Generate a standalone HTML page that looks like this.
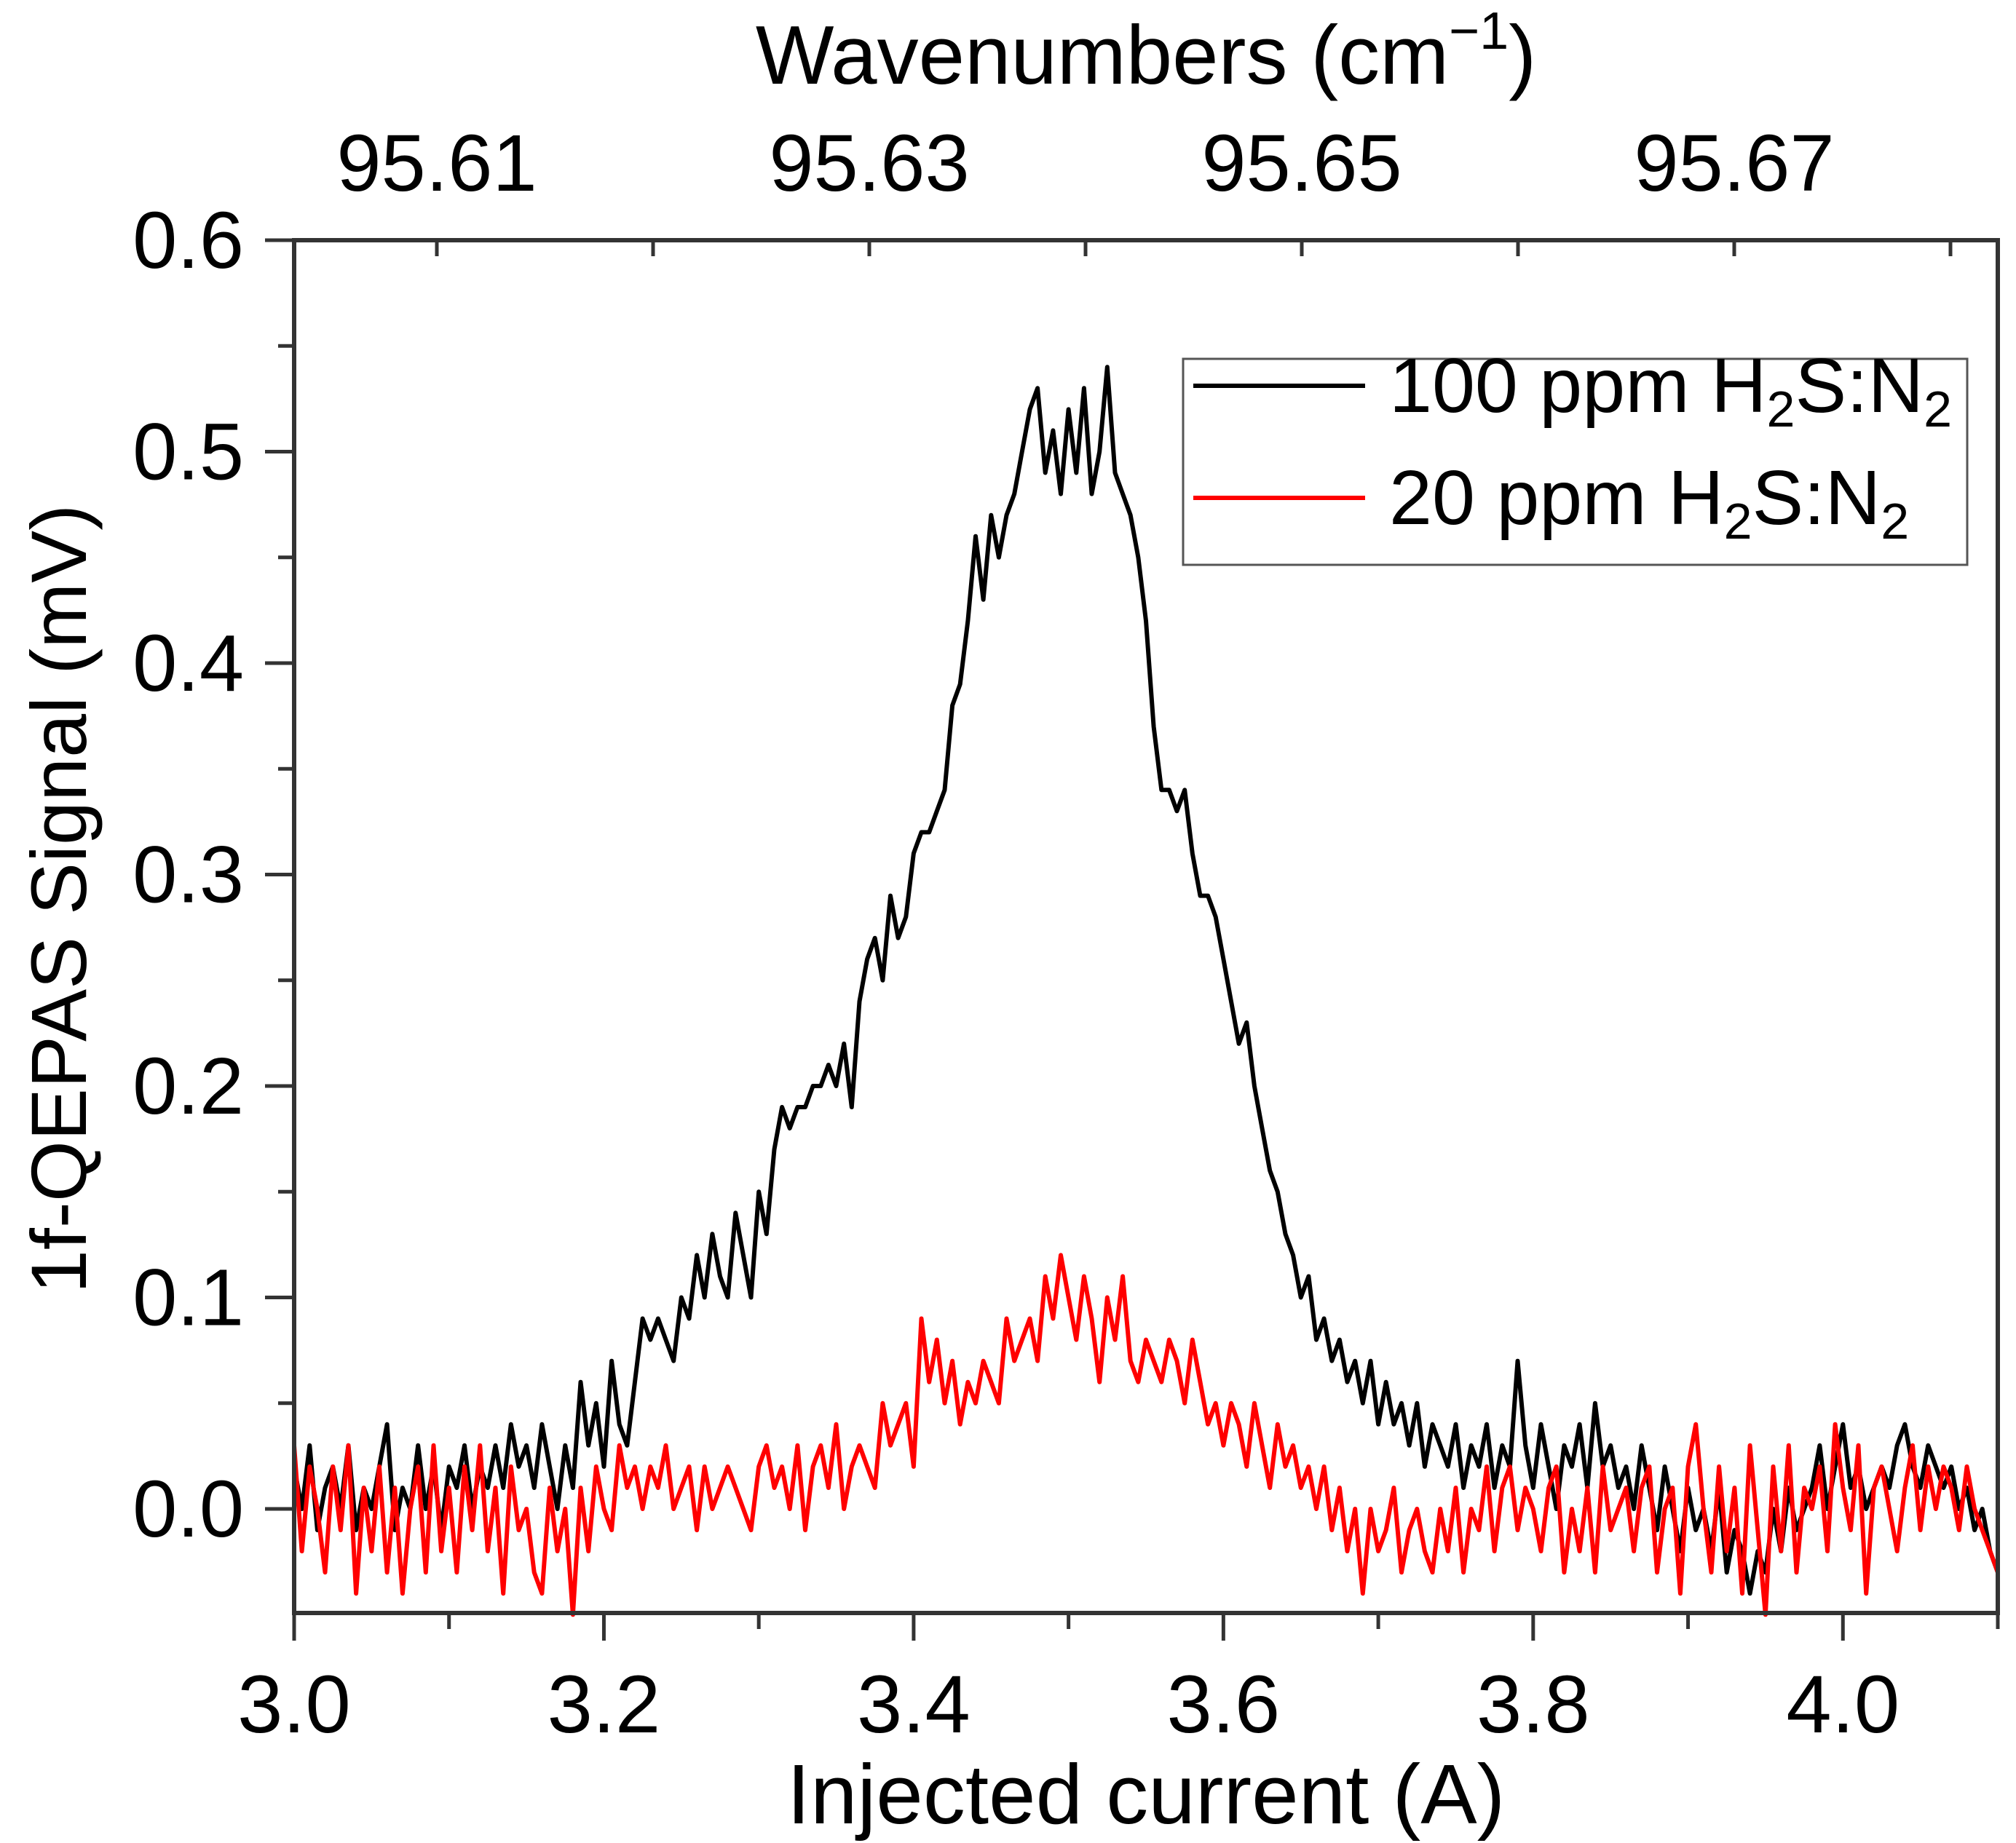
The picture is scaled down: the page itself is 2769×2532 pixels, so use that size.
<!DOCTYPE html>
<html><head><meta charset="utf-8"><style>
html,body{margin:0;padding:0;background:#fff;}
svg{display:block;font-family:"Liberation Sans",Arial,sans-serif;}
</style></head><body>
<svg id="chart" width="2769" height="2532" viewBox="0 0 2769 2532" xmlns="http://www.w3.org/2000/svg">
<rect width="2769" height="2532" fill="#fff"/>
<g id="plot"></g>
<g id="axes"></g>
<text x="1574" y="115" font-size="114" text-anchor="middle">Wavenumbers (cm<tspan font-size="72" dy="-48">−1</tspan><tspan dy="48">)</tspan></text>
<text x="1574" y="2505" font-size="116" text-anchor="middle">Injected current (A)</text>
<text x="0" y="0" font-size="108" text-anchor="middle" transform="translate(118,1235) rotate(-90)">1f-QEPAS Signal (mV)</text>
<g>
<rect x="1625" y="493" width="1077" height="283" fill="#fff" stroke="#555" stroke-width="3"/>
<line x1="1639" y1="530" x2="1875" y2="530" stroke="#000" stroke-width="6"/>
<text x="1908" y="566" font-size="106">100 ppm H<tspan font-size="70" dy="20">2</tspan><tspan dy="-20">S:N</tspan><tspan font-size="70" dy="20">2</tspan></text>
<line x1="1639" y1="684" x2="1875" y2="684" stroke="#ff0000" stroke-width="6"/>
<text x="1908" y="720" font-size="106">20 ppm H<tspan font-size="70" dy="20">2</tspan><tspan dy="-20">S:N</tspan><tspan font-size="70" dy="20">2</tspan></text>
</g>
</svg>
<script>
const xStart = 3.0, xStep = 0.005;
const ppm100 = [0.02,0.00,0.03,-0.01,0.01,0.02,0.00,0.03,-0.01,0.01,0.00,0.02,0.04,-0.01,0.01,0.00,0.03,0.00,0.02,-0.01,0.02,
0.01,0.03,0.00,0.02,0.01,0.03,0.01,0.04,0.02,0.03,0.01,0.04,0.02,0.00,0.03,0.01,
0.06,0.03,0.05,0.02,0.07,0.04,0.03,0.06,
0.09,0.08,0.09,0.08,0.07,0.10,0.09,0.12,
0.10,0.13,0.11,0.10,0.14,0.12,0.10,0.15,
0.13,0.17,0.19,0.18,0.19,0.19,0.20,0.20,
0.21,0.20,0.22,0.19,0.24,0.26,0.27,0.25,
0.29,0.27,0.28,0.31,0.32,0.32,0.33,0.34,
0.38,0.39,0.42,0.46,0.43,0.47,0.45,0.47,
0.48,0.50,0.52,0.53,0.49,0.51,0.48,0.52,
0.49,0.53,0.48,0.50,0.54,0.49,0.48,0.47,
0.45,0.42,0.37,0.34,0.34,0.33,0.34,0.31,
0.29,0.29,0.28,0.26,0.24,0.22,0.23,0.20,
0.18,0.16,0.15,0.13,0.12,0.10,0.11,0.08,
0.09,0.07,0.08,0.06,0.07,0.05,0.07,0.04,
0.06,0.04,0.05,0.03,0.05,0.02,0.04,0.03,
0.02,0.04,0.01,0.03,0.02,0.04,0.01,0.03,
0.02,0.07,0.03,0.01,0.04,0.02,0.00,0.03,
0.02,0.04,0.01,0.05,0.02,0.03,0.01,0.02,
0.00,0.03,0.01,-0.01,0.02,0.00,-0.02,0.01,
-0.01,0.00,-0.02,0.01,-0.03,-0.01,-0.02,-0.04,
-0.02,-0.03,0.00,-0.02,0.01,-0.01,0.00,0.01,
0.03,0.00,0.02,0.04,0.01,0.02,0.00,0.01,
0.02,0.01,0.03,0.04,0.02,0.01,0.03,0.02,
0.01,0.02,0.00,0.01,-0.01,0.00,-0.02,-0.03];
const ppm20 = [0.03,-0.02,0.02,0.00,-0.03,0.02,-0.01,0.03,-0.04,0.01,-0.02,0.02,-0.03,0.01,-0.04,0.00,0.02,-0.03,0.03,-0.02,0.01,
-0.03,0.02,-0.01,0.03,-0.02,0.01,-0.04,0.02,-0.01,0.00,-0.03,-0.04,0.01,-0.02,0.00,-0.05,
0.01,-0.02,0.02,0.00,-0.01,0.03,0.01,0.02,
0.00,0.02,0.01,0.03,0.00,0.01,0.02,-0.01,
0.02,0.00,0.01,0.02,0.01,0.00,-0.01,0.02,
0.03,0.01,0.02,0.00,0.03,-0.01,0.02,0.03,
0.01,0.04,0.00,0.02,0.03,0.02,0.01,0.05,
0.03,0.04,0.05,0.02,0.09,0.06,0.08,0.05,
0.07,0.04,0.06,0.05,0.07,0.06,0.05,0.09,
0.07,0.08,0.09,0.07,0.11,0.09,0.12,0.10,
0.08,0.11,0.09,0.06,0.10,0.08,0.11,0.07,
0.06,0.08,0.07,0.06,0.08,0.07,0.05,0.08,
0.06,0.04,0.05,0.03,0.05,0.04,0.02,0.05,
0.03,0.01,0.04,0.02,0.03,0.01,0.02,0.00,
0.02,-0.01,0.01,-0.02,0.00,-0.04,0.00,-0.02,
-0.01,0.01,-0.03,-0.01,0.00,-0.02,-0.03,0.00,
-0.02,0.01,-0.03,0.00,-0.01,0.02,-0.02,0.01,
0.02,-0.01,0.01,0.00,-0.02,0.01,0.02,-0.03,
0.00,-0.02,0.01,-0.03,0.02,-0.01,0.00,0.01,
-0.02,0.01,0.02,-0.03,0.00,0.01,-0.04,0.02,
0.04,0.00,-0.03,0.02,-0.02,0.01,-0.04,0.03,
-0.01,-0.05,0.02,-0.02,0.03,-0.03,0.01,0.00,
0.02,-0.02,0.04,0.01,-0.01,0.03,-0.04,0.01,
0.02,0.00,-0.02,0.01,0.03,-0.01,0.02,0.00,
0.02,0.01,-0.01,0.02,0.00,-0.01,-0.02,-0.03];
const xTicks = [3.0, 3.2, 3.4, 3.6, 3.8, 4.0];
const xTickLabels = ["3.0","3.2","3.4","3.6","3.8","4.0"];
const yTicks = [0.0, 0.1, 0.2, 0.3, 0.4, 0.5, 0.6];
const yTickLabels = ["0.0","0.1","0.2","0.3","0.4","0.5","0.6"];
const topTicks = [95.61, 95.63, 95.65, 95.67];
const topTickLabels = ["95.61","95.63","95.65","95.67"];

const L=404,R=2744,T=330,B=2216;
const X = v => L + (v-3.0)/(4.1-3.0)*(R-L);
const Y = v => 2073 - v*(2073-330)/0.6;
const W = w => 600 + (w-95.61)/0.02*594;
const NS="http://www.w3.org/2000/svg";
function mk(tag, attrs, parent){const e=document.createElementNS(NS,tag);for(const k in attrs)e.setAttribute(k,attrs[k]);parent.appendChild(e);return e;}
const plot=document.getElementById('plot'), axes=document.getElementById('axes');

function series(data,color,name){
  const pts=data.map((v,i)=>X(xStart+i*xStep).toFixed(1)+','+Y(v).toFixed(1)).join(' ');
  const p=mk('polyline',{points:pts,fill:'none',stroke:color,'stroke-width':6,'stroke-linejoin':'round'},plot);
  
  
}
series(ppm100,'#000','series-100ppm');
series(ppm20,'#ff0000','series-20ppm');

const frame=mk('rect',{x:L,y:T,width:R-L,height:B-T,fill:'none',stroke:'#333','stroke-width':6},axes);



for(let k=0;k<=11;k++){
  const v=3.0+k*0.1, x=X(v), major=(k%2===0);
  const t=mk('line',{x1:x,y1:B,x2:x,y2:B+(major?38:22),stroke:'#333','stroke-width':5},axes);
  
  
}
xTicks.forEach((v,i)=>{
  const t=mk('text',{x:X(v),y:2380,'font-size':112,'text-anchor':'middle'},axes);
  t.textContent=xTickLabels[i];
  
  
});
for(let k=-1;k<=12;k++){
  const v=k*0.05, y=Y(v), major=(k%2===0);
  if(y>B+1) continue;
  const t=mk('line',{x1:L,y1:y,x2:L-(major?40:22),y2:y,stroke:'#333','stroke-width':5},axes);
  
  
}
yTicks.forEach((v,i)=>{
  const t=mk('text',{x:335,y:Y(v)+38,'font-size':110,'text-anchor':'end'},axes);
  t.textContent=yTickLabels[i];
  
  
});
for(let k=0;k<=8;k++){
  const w=95.60+k*0.01, x=W(w);
  if(x<L||x>R) continue;
  const t=mk('line',{x1:x,y1:T,x2:x,y2:T+22,stroke:'#333','stroke-width':5},axes);
  
  
}
topTicks.forEach((w,i)=>{
  const t=mk('text',{x:W(w),y:262,'font-size':110,'text-anchor':'middle'},axes);
  t.textContent=topTickLabels[i];
  
  
});
</script>
</body></html>
